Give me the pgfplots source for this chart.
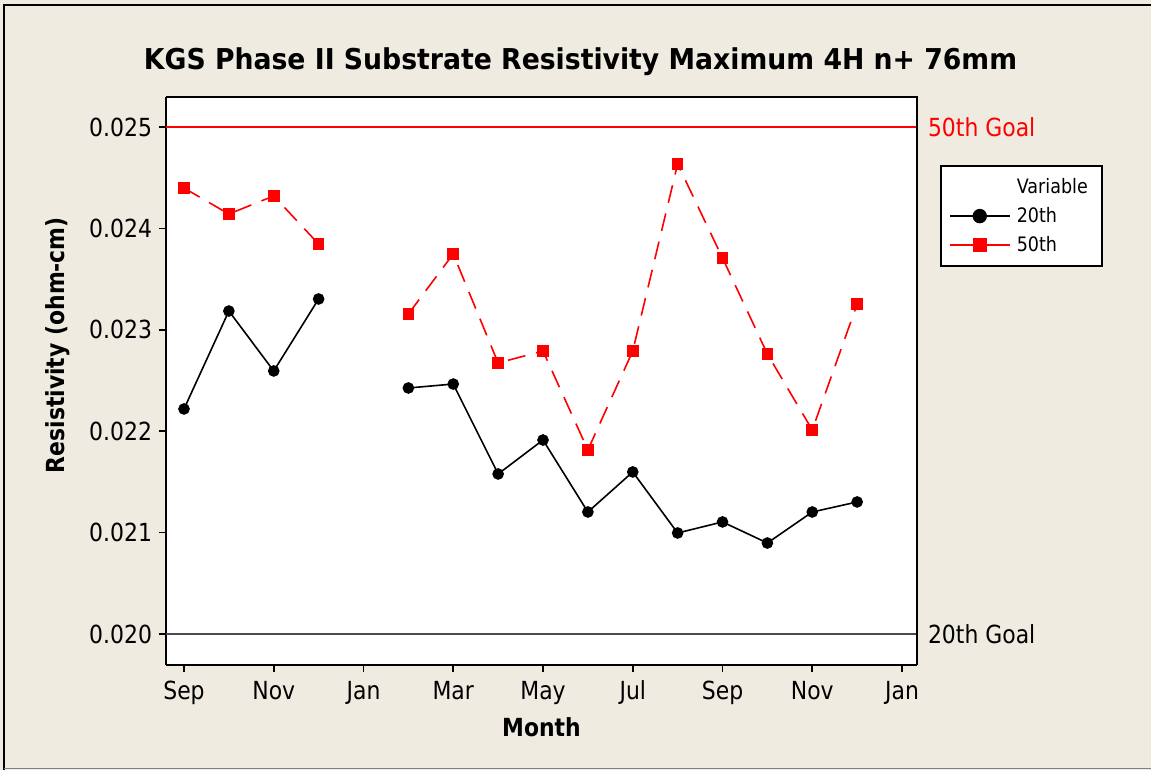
\documentclass[border=0pt]{standalone}
\usepackage{fontspec}
\setmainfont{DejaVu Sans}[FakeStretch=0.88]
\newfontfamily\titlefont{DejaVu Sans}[FakeStretch=0.93]
\usepackage{pgfplots}
\pgfplotsset{compat=1.18}
\definecolor{bgbeige}{RGB}{239,235,225}
\begin{document}
\begin{tikzpicture}
\path[fill=bgbeige, use as bounding box] (0,0) rectangle (575.5bp,385bp);
\draw[black, line width=0.8bp] (2bp,0bp) -- (2bp,382.5bp) -- (575.5bp,382.5bp);
\draw[gray, line width=0.8bp] (2bp,0.8bp) -- (575.5bp,0.8bp);
\node[font=\titlefont\fontsize{14.4}{16}\selectfont\bfseries] at (290.25bp,354bp) {KGS Phase II Substrate Resistivity Maximum 4H n+ 76mm};
\begin{axis}[
  at={(83bp,52.5bp)}, anchor=south west,
  scale only axis, width=375.5bp, height=284bp,
  xmin=-0.401, xmax=16.334,
  ymin=0.019694, ymax=0.025296,
  axis background/.style={fill=white},
  axis line style={line width=1bp},
  axis x line*=bottom, axis y line*=left,
  tick align=outside, major tick length=3.5bp,
  tick style={black, line width=0.8bp},
  xtick={0,2,4,6,8,10,12,14,16},
  xticklabels={Sep,Nov,Jan,Mar,May,Jul,Sep,Nov,Jan},
  ytick={0.020,0.021,0.022,0.023,0.024,0.025},
  scaled y ticks=false,
  yticklabel style={/pgf/number format/fixed, /pgf/number format/fixed zerofill, /pgf/number format/precision=3},
  /pgf/number format/assume math mode=true,
  ticklabel style={font=\fontsize{12.5}{14}\selectfont},
  xticklabel style={yshift=-1bp},
  xlabel={\bfseries Month},
  ylabel={\bfseries Resistivity (ohm-cm)},
  label style={font=\fontsize{12.5}{14}\selectfont},
  xlabel style={at={(axis description cs:0.5,-0.109)}, anchor=center},
  ylabel style={at={(axis description cs:-0.1445,0.563)}, anchor=center},
  unbounded coords=jump,
  legend style={at={(axis description cs:1.0306,0.880)}, anchor=north west, draw=black, line width=0.8bp, fill=white,
    font=\fontsize{10}{12}\selectfont, row sep=1.5bp, inner xsep=4bp, inner ysep=4bp,
    nodes={inner xsep=3bp}},
  legend cell align=left,
  legend image code/.code={\draw[mark repeat=2,mark phase=2,#1,solid,line width=1bp,mark size=3.1bp] plot coordinates {(0bp,0bp)(15bp,0bp)(30bp,0bp)};},
  clip=false,
]
\addlegendimage{empty legend}
\addlegendentry{Variable}
\addplot[black, line width=0.8bp, mark=*, mark size=2.5bp, mark options={solid,fill=black}] coordinates {
 (0,0.022219) (1,0.023185) (2,0.022594) (3,0.023304) (4,nan)
 (5,0.022426) (6,0.022465) (7,0.021578) (8,0.021913) (9,0.021203)
 (10,0.021598) (11,0.020996) (12,0.021105) (13,0.020897) (14,0.021203) (15,0.021302)
};
\addlegendentry{20th}
\addplot[red, line width=0.8bp, dash pattern=on 9bp off 5.5bp, mark=square*, mark size=2.5bp, mark options={solid,fill=red}] coordinates {
 (0,0.024398) (1,0.024142) (2,0.024320) (3,0.023846) (4,nan)
 (5,0.023156) (6,0.023748) (7,0.022673) (8,0.022791) (9,0.021815)
 (10,0.022791) (11,0.024635) (12,0.023708) (13,0.022761) (14,0.022012) (15,0.023254)
};
\addlegendentry{50th}
\addplot[red, line width=0.75bp, forget plot] coordinates {(-0.401,0.025) (16.334,0.025)};
\addplot[black!70, line width=0.75bp, forget plot] coordinates {(-0.401,0.020) (16.334,0.020)};
\draw[line width=1bp] (rel axis cs:0,1) -- (rel axis cs:1,1) -- (rel axis cs:1,0);
\node[anchor=west, red, font=\fontsize{12.5}{14}\selectfont] at (axis cs:16.334,0.025) {\hspace{2bp}50th Goal};
\node[anchor=west, black, font=\fontsize{12.5}{14}\selectfont] at (axis cs:16.334,0.020) {\hspace{2bp}20th Goal};
\end{axis}
\end{tikzpicture}
\end{document}
